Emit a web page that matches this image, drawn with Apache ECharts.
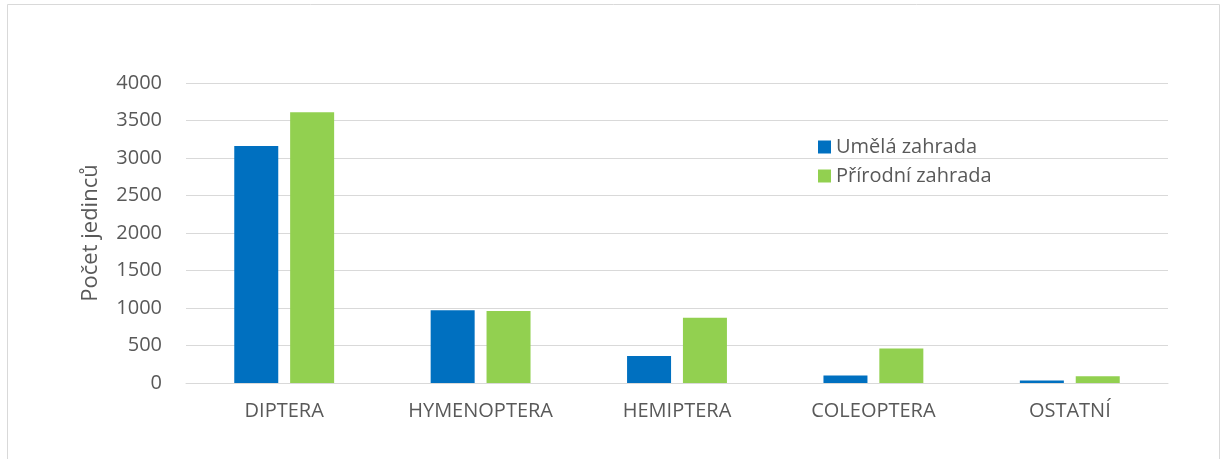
<!DOCTYPE html>
<html>
<head>
<meta charset="utf-8">
<script src="https://cdn.jsdelivr.net/npm/echarts@6/dist/echarts.min.js"></script>
<style>
  html, body { margin: 0; padding: 0; background: #fff; }
  #chart { width: 1227px; height: 459px; }
</style>
</head>
<body>
<div id="chart"></div>
<script>
// data
const categories = ['DIPTERA', 'HYMENOPTERA', 'HEMIPTERA', 'COLEOPTERA', 'OSTATNÍ']
const seriesNames = ['Umělá zahrada', 'Přírodní zahrada']
const umelaValues = [3160, 970, 360, 100, 35]
const prirodniValues = [3610, 960, 870, 460, 90]

const textColor = '#595959'
const gridColor = '#d9d9d9'
const fontFamily = '"Open Sans", sans-serif'

const chart = echarts.init(document.getElementById('chart'), null, { renderer: 'canvas' })

chart.setOption({
    animation: false,
    backgroundColor: '#fff',
    graphic: [{
        type: 'rect',
        shape: { x: 7.5, y: 4.5, width: 1212, height: 480 },
        style: { fill: 'none', stroke: gridColor, lineWidth: 1 },
        silent: true
    }],
    legend: {
        orient: 'vertical',
        left: 813,
        top: 132,
        itemWidth: 13,
        itemHeight: 13,
        itemGap: 9,
        icon: 'rect',
        data: seriesNames,
        textStyle: { color: textColor, fontSize: 20, fontFamily: fontFamily, padding: [0, 0, 0, 0] }
    },
    grid: {
        left: 186,
        right: 59,
        top: 83,
        bottom: 76,
        containLabel: false
    },
    xAxis: {
        type: 'category',
        data: categories,
        axisTick: { show: false },
        axisLine: { lineStyle: { color: gridColor, width: 1 } },
        axisLabel: { color: textColor, fontSize: 20, fontFamily: fontFamily, margin: 18 }
    },
    yAxis: {
        type: 'value',
        min: 0,
        max: 4000,
        interval: 500,
        name: 'Počet jedinců',
        nameLocation: 'middle',
        nameGap: 84,
        nameTextStyle: { color: textColor, fontSize: 22, fontFamily: fontFamily },
        axisLine: { show: false },
        axisTick: { show: false },
        splitLine: { lineStyle: { color: gridColor, width: 1 } },
        axisLabel: {
            color: textColor, fontSize: 20, fontFamily: fontFamily, margin: 24,
            formatter: function (v) { return String(v) }
        }
    },
    series: [
        {
            name: seriesNames[0],
            type: 'bar',
            data: umelaValues,
            barWidth: 44,
            barGap: '27%',
            itemStyle: { color: '#0070c0' }
        },
        {
            name: seriesNames[1],
            type: 'bar',
            data: prirodniValues,
            barWidth: 44,
            barGap: '27%',
            itemStyle: { color: '#92d050' }
        }
    ]
})
</script>
</body>
</html>
